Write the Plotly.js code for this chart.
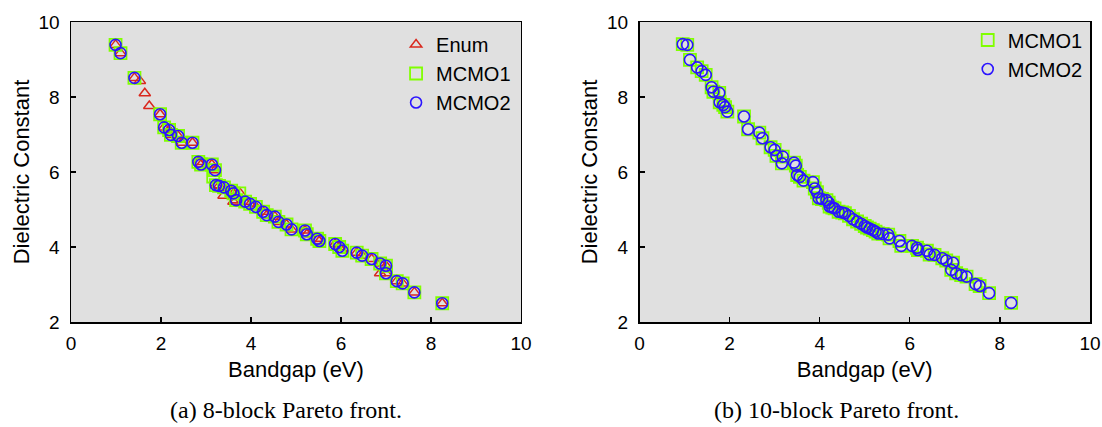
<!DOCTYPE html>
<html>
<head>
<meta charset="utf-8">
<script src="https://cdn.plot.ly/plotly-3.0.1.min.js"></script>
<style>html,body{margin:0;padding:0;background:#fff;}#chart{width:1102px;height:427px;}</style>
</head>
<body>
<div id="chart"></div>
<script>
// ---- Panel (a): 8-block Pareto front ----
const enumX8 = [0.99,1.10,1.41,1.53,1.64,1.74,1.98,2.07,2.18,2.22,2.38,2.46,2.70,2.83,2.89,3.13,3.20,3.22,3.29,3.39,3.40,3.56,3.61,3.61,3.67,3.76,3.87,3.98,4.11,4.27,4.35,4.53,4.61,4.79,4.90,5.20,5.24,5.47,5.52,5.87,5.96,6.03,6.35,6.47,6.68,6.87,6.87,7.00,7.00,7.24,7.37,7.63,8.25];
const enumY8 = [9.39,9.17,8.51,8.43,8.10,7.76,7.54,7.19,7.12,6.99,6.96,6.78,6.78,6.27,6.20,6.20,6.05,5.65,5.63,5.37,5.59,5.50,5.43,5.21,5.25,5.43,5.21,5.15,5.07,4.94,4.85,4.81,4.67,4.60,4.47,4.44,4.34,4.22,4.16,4.08,4.00,3.90,3.85,3.77,3.68,3.56,3.30,3.50,3.30,3.09,3.03,2.79,2.50];
const mcmo1X8 = [0.99,1.10,1.41,1.98,2.07,2.18,2.22,2.38,2.46,2.70,2.83,2.89,3.13,3.16,3.20,3.22,3.29,3.40,3.56,3.61,3.67,3.74,3.87,3.98,4.11,4.27,4.35,4.53,4.61,4.79,4.90,5.20,5.24,5.47,5.52,5.87,5.96,6.03,6.35,6.47,6.68,6.87,7.00,7.00,7.24,7.37,7.63,8.25];
const mcmo1Y8 = [9.39,9.17,8.51,7.54,7.19,7.12,6.99,6.96,6.78,6.78,6.27,6.20,6.20,5.88,6.05,5.65,5.63,5.59,5.50,5.43,5.25,5.43,5.21,5.15,5.07,4.94,4.85,4.81,4.67,4.60,4.47,4.44,4.34,4.22,4.16,4.08,4.00,3.90,3.85,3.77,3.68,3.56,3.50,3.30,3.09,3.03,2.79,2.50];
const mcmo2X8 = [0.99,1.10,1.41,1.98,2.07,2.18,2.22,2.38,2.46,2.70,2.83,2.89,3.13,3.20,3.22,3.29,3.40,3.56,3.61,3.67,3.87,3.98,4.11,4.27,4.35,4.53,4.61,4.79,4.90,5.20,5.24,5.47,5.52,5.87,5.96,6.03,6.35,6.47,6.68,6.87,7.00,7.00,7.24,7.37,7.63,8.25];
const mcmo2Y8 = [9.39,9.17,8.51,7.54,7.19,7.12,6.99,6.96,6.78,6.78,6.27,6.20,6.20,6.05,5.65,5.63,5.59,5.50,5.43,5.25,5.21,5.15,5.07,4.94,4.85,4.81,4.67,4.60,4.47,4.44,4.34,4.22,4.16,4.08,4.00,3.90,3.85,3.77,3.68,3.56,3.50,3.30,3.09,3.03,2.79,2.50];

// ---- Panel (b): 10-block Pareto front ----
const mcmo1X10 = [0.96,1.06,1.12,1.28,1.38,1.47,1.60,1.64,1.77,1.78,1.86,1.90,1.95,2.32,2.41,2.66,2.73,2.91,3.00,3.04,3.18,3.16,3.43,3.47,3.50,3.56,3.64,3.85,3.89,3.94,3.98,4.05,4.15,4.20,4.22,4.28,4.33,4.42,4.50,4.56,4.65,4.74,4.83,4.92,5.00,5.05,5.11,5.18,5.24,5.30,5.40,5.52,5.55,5.77,5.81,6.05,6.16,6.18,6.38,6.44,6.55,6.72,6.81,6.96,6.92,7.03,7.14,7.26,7.46,7.55,7.76,8.25];
const mcmo1Y10 = [9.41,9.39,8.99,8.79,8.69,8.59,8.26,8.14,8.11,7.86,7.79,7.73,7.61,7.48,7.14,7.05,6.90,6.66,6.59,6.43,6.41,6.23,6.25,6.17,5.92,5.87,5.77,5.73,5.56,5.46,5.30,5.28,5.25,5.18,5.08,5.05,5.03,4.94,4.92,4.90,4.83,4.74,4.68,4.62,4.56,4.52,4.49,4.45,4.41,4.36,4.35,4.33,4.23,4.16,4.03,4.03,3.98,3.92,3.90,3.80,3.79,3.70,3.64,3.58,3.39,3.30,3.25,3.21,3.01,2.96,2.77,2.51];
const mcmo2X10 = [0.96,1.06,1.12,1.28,1.38,1.47,1.60,1.64,1.77,1.78,1.86,1.90,1.95,2.32,2.41,2.66,2.73,2.91,3.00,3.04,3.18,3.16,3.43,3.47,3.50,3.56,3.64,3.85,3.89,3.94,3.98,4.05,4.15,4.20,4.22,4.28,4.33,4.42,4.50,4.56,4.65,4.74,4.83,4.92,5.00,5.05,5.11,5.18,5.24,5.30,5.40,5.52,5.55,5.77,5.81,6.05,6.16,6.18,6.38,6.44,6.55,6.72,6.81,6.96,6.92,7.03,7.14,7.26,7.46,7.55,7.76,8.25];
const mcmo2Y10 = [9.41,9.39,8.99,8.79,8.69,8.59,8.26,8.14,8.11,7.86,7.79,7.73,7.61,7.48,7.14,7.05,6.90,6.66,6.59,6.43,6.41,6.23,6.25,6.17,5.92,5.87,5.77,5.73,5.56,5.46,5.30,5.28,5.25,5.18,5.08,5.05,5.03,4.94,4.92,4.90,4.83,4.74,4.68,4.62,4.56,4.52,4.49,4.45,4.41,4.36,4.35,4.33,4.23,4.16,4.03,4.03,3.98,3.92,3.90,3.80,3.79,3.70,3.64,3.58,3.39,3.30,3.25,3.21,3.01,2.96,2.77,2.51];

const tickVals = [0,2,4,6,8,10];
const yTickVals = [2,4,6,8,10];
const captions = ['(a) 8-block Pareto front.', '(b) 10-block Pareto front.'];

const RED = '#d9281e', GREEN = '#80ff00', BLUE = '#2b14ff';
const triM = {symbol:'triangle-up-open', size:10, color:RED, line:{width:1.5, color:RED}};
const sqM = {symbol:'square-open', size:12, color:GREEN, line:{width:1.8, color:GREEN}};
const ciM = {symbol:'circle-open', size:11, color:BLUE, line:{width:1.6, color:BLUE}};

const traces = [
  {type:'scatter', mode:'markers', name:'Enum', x:enumX8, y:enumY8, marker:triM, xaxis:'x', yaxis:'y', legend:'legend'},
  {type:'scatter', mode:'markers', name:'MCMO1', x:mcmo1X8, y:mcmo1Y8, marker:sqM, xaxis:'x', yaxis:'y', legend:'legend'},
  {type:'scatter', mode:'markers', name:'MCMO2', x:mcmo2X8, y:mcmo2Y8, marker:ciM, xaxis:'x', yaxis:'y', legend:'legend'},
  {type:'scatter', mode:'markers', name:'MCMO1', x:mcmo1X10, y:mcmo1Y10, marker:sqM, xaxis:'x2', yaxis:'y2', legend:'legend2'},
  {type:'scatter', mode:'markers', name:'MCMO2', x:mcmo2X10, y:mcmo2Y10, marker:ciM, xaxis:'x2', yaxis:'y2', legend:'legend2'}
];

const FONT = 'Liberation Sans, Arial, sans-serif';
function xax(domain, anchor){
  return {domain:domain, anchor:anchor, range:[0,10], tickvals:tickVals, ticks:'inside', ticklen:5, tickwidth:1.2,
    tickcolor:'#000', showline:true, mirror:true, linecolor:'#000', linewidth:1.5, showgrid:false, zeroline:false,
    tickfont:{family:FONT, size:19, color:'#000'}, ticklabelstandoff:4, automargin:false,
    title:{text:'Bandgap (eV)', font:{family:FONT, size:22, color:'#000'}, standoff:8}};
}
function yax(anchor){
  return {domain:[0,1], anchor:anchor, range:[2,10], tickvals:yTickVals, ticks:'inside', ticklen:5, tickwidth:1.2,
    tickcolor:'#000', showline:true, mirror:true, linecolor:'#000', linewidth:1.5, showgrid:false, zeroline:false,
    tickfont:{family:FONT, size:19, color:'#000'}, ticklabelstandoff:6, automargin:false,
    title:{text:'Dielectric Constant', font:{family:FONT, size:22, color:'#000'}, standoff:3}};
}

const layout = {
  width:1102, height:427,
  margin:{l:71, r:12, t:22, b:105},
  paper_bgcolor:'#fff', plot_bgcolor:'#e0e0e0',
  showlegend:true,
  xaxis: xax([0, 0.4416], 'y'),
  yaxis: yax('x'),
  xaxis2: xax([0.5579, 1], 'y2'),
  yaxis2: yax('x2'),
  legend:{x:0.319, y:0.99, xanchor:'left', yanchor:'top', bgcolor:'rgba(0,0,0,0)', borderwidth:0,
    font:{family:FONT, size:20, color:'#000'}, itemwidth:30, tracegroupgap:0},
  legend2:{x:0.880, y:1.005, xanchor:'left', yanchor:'top', bgcolor:'rgba(0,0,0,0)', borderwidth:0,
    font:{family:FONT, size:20, color:'#000'}, itemwidth:30},
  annotations:[
    {text:captions[0], xref:'paper', yref:'paper', x:0.2107, y:-0.293, xanchor:'center', yanchor:'middle', showarrow:false,
     font:{family:'Liberation Serif, Times New Roman, serif', size:24, color:'#000'}},
    {text:captions[1], xref:'paper', yref:'paper', x:0.7511, y:-0.293, xanchor:'center', yanchor:'middle', showarrow:false,
     font:{family:'Liberation Serif, Times New Roman, serif', size:24, color:'#000'}}
  ]
};

Plotly.newPlot('chart', traces, layout, {displayModeBar:false, staticPlot:true});
</script>
</body>
</html>
